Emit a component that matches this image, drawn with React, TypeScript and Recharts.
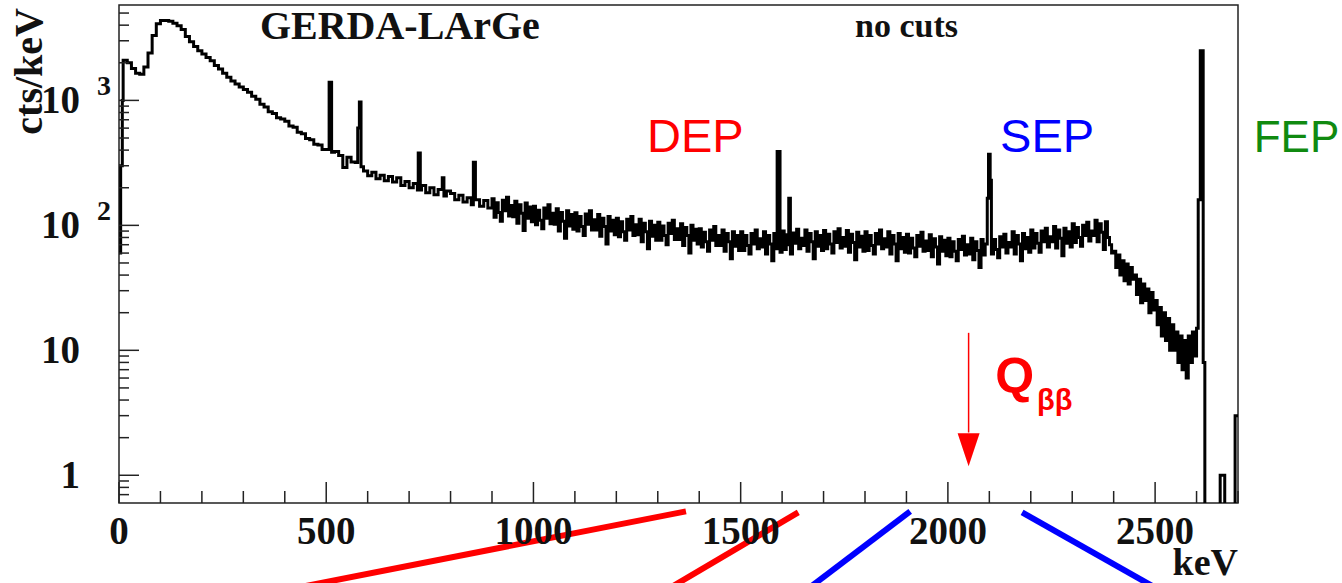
import React from 'react';
import { LineChart, Line, XAxis, YAxis, ReferenceLine, ReferenceDot, ReferenceArea } from 'recharts';

// counts/keV
// low part: 10 keV bins from 0 to 890 keV
const LOW_BIN = 10;
const continuumLow = [
  1000, 2100, 2000, 1800, 1650, 1620, 1850, 2400, 3300, 4100, // 0
  4350, 4350, 4300, 4150, 3950, 3700, 3250, 2950, 2700, 2500, // 100
  2350, 2200, 2080, 1900, 1780, 1650, 1530, 1430, 1350, 1280, // 200
  1220, 1160, 1080, 1020, 930, 885, 810, 785, 725, 710, // 300
  680, 625, 610, 555, 540, 495, 485, 445, 440, 405, // 400
  405, 385, 390, 362, 290, 350, 322, 318, 295, 272, // 500
  250, 266, 236, 252, 228, 246, 222, 240, 208, 224, // 600
  200, 216, 192, 208, 182, 200, 176, 194, 172, 188, // 700
  180, 160, 174, 154, 166, 146, 160, 142, 158, 138, // 800
];
// high part: 5 keV bins from 900 to 2695 keV
const HIGH_START = 900;
const HIGH_BIN = 5;
const continuumHigh = [
  163, 116, 152, 127, 108, 159, 131, 168, 119, 144, // 900
  117, 156, 104, 146, 125, 91, 151, 114, 140, 107, // 950
  142, 101, 132, 110, 94, 138, 114, 146, 103, 125, // 1000
  102, 136, 90, 127, 108, 79, 131, 99, 122, 93, // 1050
  126, 90, 118, 98, 83, 123, 102, 131, 92, 111, // 1100
  92, 122, 82, 114, 98, 71, 118, 90, 110, 84, // 1150
  114, 81, 107, 89, 76, 112, 92, 118, 83, 101, // 1200
  84, 112, 74, 104, 89, 65, 108, 82, 100, 76, // 1250
  106, 76, 99, 83, 70, 104, 86, 110, 77, 94, // 1300
  77, 103, 69, 96, 83, 60, 100, 76, 93, 71, // 1350
  94, 67, 88, 74, 62, 92, 76, 98, 69, 83, // 1400
  69, 92, 62, 86, 74, 54, 89, 68, 83, 63, // 1450
  89, 63, 83, 69, 59, 86, 71, 92, 65, 78, // 1500
  67, 89, 59, 83, 71, 52, 86, 65, 80, 61, // 1550
  90, 64, 84, 70, 59, 87, 72, 93, 65, 79, // 1600
  69, 92, 62, 86, 74, 54, 89, 68, 83, 63, // 1650
  91, 65, 85, 71, 60, 89, 73, 94, 66, 80, // 1700
  68, 91, 61, 85, 73, 53, 88, 67, 82, 62, // 1750
  89, 63, 83, 69, 59, 86, 71, 92, 65, 78, // 1800
  67, 89, 59, 83, 71, 52, 86, 65, 80, 61, // 1850
  85, 60, 79, 66, 56, 83, 68, 88, 62, 75, // 1900
  63, 84, 56, 78, 67, 49, 81, 62, 76, 57, // 1950
  79, 56, 74, 62, 52, 77, 64, 82, 58, 70, // 2000
  59, 79, 53, 74, 63, 46, 77, 58, 71, 54, // 2050
  83, 59, 77, 64, 55, 81, 67, 85, 60, 73, // 2100
  67, 89, 59, 83, 71, 52, 86, 65, 80, 61, // 2150
  92, 66, 86, 72, 61, 90, 74, 95, 67, 81, // 2200
  74, 98, 66, 92, 79, 57, 95, 72, 89, 67, // 2250
  103, 73, 96, 80, 68, 100, 83, 106, 75, 90, // 2300
  83, 110, 74, 103, 88, 64, 107, 80, 70, 60, // 2350
  62, 46, 58, 40, 52, 36, 49, 34, 46, 37, // 2400
  40, 28, 37, 24, 34, 25, 31, 20, 29, 21, // 2450
  25, 16, 22, 13, 20, 12, 18, 10, 16, 10, // 2500
  14, 8, 13, 7, 12, 6, 13, 8, 14, 9, // 2550
  15, 0.3, 0.3, 0.3, 0.3, 0.3, 0.3, 0.3, 0.3, 0.3, // 2600
  0.3, 0.3, 0.3, 0.3, 0.3, 0.3, 0.3, 0.3, 0.3, 0.3, // 2650
];

// narrow gamma lines and fine structure: from keV, to keV, counts/keV
const lines = [
  { from: 0, to: 4, h: 60 },
  { from: 4, to: 8, h: 300 },
  { from: 507, to: 513, h: 1400 },
  { from: 576, to: 580, h: 600 },
  { from: 580, to: 584, h: 970 },
  { from: 722, to: 727, h: 380 },
  { from: 780, to: 784, h: 240 },
  { from: 855, to: 860, h: 320 },
  { from: 1588, to: 1595, h: 390 },
  { from: 1616, to: 1620, h: 165 },
  { from: 2095, to: 2098, h: 165 },
  { from: 2098, to: 2102, h: 370 },
  { from: 2102, to: 2105, h: 230 },
  { from: 2604, to: 2609, h: 160 },
  { from: 2609, to: 2616, h: 2500 },
  { from: 2616, to: 2620, h: 8 },
  { from: 2657, to: 2668, h: 1 },
  { from: 2693, to: 2700, h: 3 },
];

const xTicks = [0, 100, 200, 300, 400, 500, 600, 700, 800, 900, 1000, 1100, 1200, 1300, 1400,
  1500, 1600, 1700, 1800, 1900, 2000, 2100, 2200, 2300, 2400, 2500, 2600, 2700];
const xLabels = [0, 500, 1000, 1500, 2000, 2500];

const yTicks = [0.7, 0.8, 0.9, 1, 2, 3, 4, 5, 6, 7, 8, 9, 10, 20, 30, 40, 50, 60, 70, 80, 90,
  100, 200, 300, 400, 500, 600, 700, 800, 900, 1000, 2000, 3000, 4000, 5000];
const yLabels = [
  { v: 1, base: '1', exp: '' },
  { v: 10, base: '10', exp: '' },
  { v: 100, base: '10', exp: '2' },
  { v: 1000, base: '10', exp: '3' },
];

// histogram bins -> step points, with the narrow lines cut in
const bins = [
  ...continuumLow.map((c, i) => ({ e: i * LOW_BIN, c })),
  ...continuumHigh.map((c, i) => ({ e: HIGH_START + i * HIGH_BIN, c })),
];
const binValue = (e: number, fallback: number) => {
  let v = fallback;
  bins.forEach(b => { if (b.e <= e) v = b.c; });
  return v;
};
const inLine = (e: number) => lines.some(l => e >= l.from && e < l.to);
const spectrum: { e: number; c: number }[] = bins.filter(b => !inLine(b.e));
lines.forEach(l => {
  spectrum.push({ e: l.from, c: l.h });
  if (!lines.some(o => o.from === l.to)) {
    spectrum.push({ e: l.to, c: l.to >= 2700 ? l.h : binValue(l.to, l.h) });
  }
});
spectrum.sort((a, b) => a.e - b.e);

const SERIF = '"Liberation Serif", "DejaVu Serif", serif';
const SANS = '"Liberation Sans", Arial, sans-serif';
const AX = '#222';

const XTick = (props: any) => {
  const { x, y, payload } = props;
  const major = xLabels.includes(payload.value);
  return (
    <g>
      <line x1={x} x2={x} y1={y} y2={y - (major ? 21 : 12)} stroke={AX} strokeWidth={1.5} />
      {major && (
        <text x={x} y={y + 41} textAnchor="middle" fontFamily={SERIF} fontWeight="bold" fontSize={39} fill="#111">
          {payload.value}
        </text>
      )}
    </g>
  );
};

const YTick = (props: any) => {
  const { x, y, payload } = props;
  const lab = yLabels.find(l => l.v === payload.value);
  return (
    <g>
      <line x1={x} x2={x + (lab ? 20 : 10)} y1={y} y2={y} stroke={AX} strokeWidth={1.5} />
      {lab && (
        <text x={x - 39} y={y + 13} textAnchor="end" fontFamily={SERIF} fontWeight="bold" fontSize={39} fill="#111">
          {lab.base}
        </text>
      )}
      {lab && lab.exp && (
        <text x={x - 22} y={y - 5} textAnchor="start" fontFamily={SERIF} fontWeight="bold" fontSize={28} fill="#111">
          {lab.exp}
        </text>
      )}
    </g>
  );
};

const yTitle = (props: any) => {
  const vb = props.viewBox || { x: 0, y: 5 };
  const tx = vb.x + 42;
  const ty = vb.y + 3;
  return (
    <text x={tx} y={ty} transform={`rotate(-90 ${tx} ${ty})`} textAnchor="end"
      fontFamily={SERIF} fontWeight="bold" fontSize={40} fill="#111">cts/keV</text>
  );
};

const xTitle = (props: any) => {
  const vb = props.viewBox || { x: 119, y: 503, width: 1119 };
  return (
    <text x={vb.x + vb.width} y={vb.y + 72} textAnchor="end"
      fontFamily={SERIF} fontWeight="bold" fontSize={38} fill="#111">keV</text>
  );
};

const textAt = (content: React.ReactNode, style: any) => (p: any) => (
  <text x={p.cx} y={p.cy} {...style}>{content}</text>
);

const arrowHead = (p: any) => (
  <polygon points={`${p.cx - 11},${p.cy - 33} ${p.cx + 11},${p.cy - 33} ${p.cx},${p.cy}`} fill="#ff0000" />
);

export default function App() {
  return (
    <div style={{ position: 'absolute', left: 0, top: 0 }}>
      <LineChart width={1342} height={583} data={spectrum} margin={{ top: 5, right: 104, bottom: 0, left: 0 }}>
        <XAxis dataKey="e" type="number" domain={[0, 2700]} allowDataOverflow ticks={xTicks} interval={0}
          tick={<XTick />} tickLine={false} axisLine={false} tickSize={0} tickMargin={0} height={80}
          label={xTitle} />
        <YAxis type="number" scale="log" domain={[0.6, 5800]} allowDataOverflow ticks={yTicks} interval={0}
          tick={<YTick />} tickLine={false} axisLine={false} tickSize={0} tickMargin={0} width={119}
          label={yTitle} />
        <Line type="stepAfter" dataKey="c" stroke="#000" strokeWidth={3} dot={false} isAnimationActive={false} />
        <ReferenceArea x1={0} x2={2700} y1={0.6} y2={5800} fill="none" fillOpacity={0} stroke={AX} strokeWidth={1.5} ifOverflow="visible" />

        <ReferenceDot x={340} y={3120} r={1} ifOverflow="visible"
          shape={textAt('GERDA-LArGe', { fontFamily: SERIF, fontWeight: 'bold', fontSize: 40, fill: '#111' })} />
        <ReferenceDot x={1776} y={3240} r={1} ifOverflow="visible"
          shape={textAt('no cuts', { fontFamily: SERIF, fontWeight: 'bold', fontSize: 34, fill: '#111' })} />
        <ReferenceDot x={1274} y={386} r={1} ifOverflow="visible"
          shape={textAt('DEP', { fontFamily: SANS, fontSize: 47, fill: '#ff0000' })} />
        <ReferenceDot x={2126} y={386} r={1} ifOverflow="visible"
          shape={textAt('SEP', { fontFamily: SANS, fontSize: 47, fill: '#0000ff' })} />
        <ReferenceDot x={2738} y={386} r={1} ifOverflow="visible"
          shape={textAt('FEP', { fontFamily: SANS, fontSize: 44, fill: '#108a10' })} />
        <ReferenceDot x={2114} y={4.56} r={1} ifOverflow="visible"
          shape={textAt(<>
            <tspan>Q</tspan>
            <tspan dx={3} dy={17} fontSize={29}>ββ</tspan>
          </>, { fontFamily: SANS, fontWeight: 'bold', fontSize: 50, fill: '#ff0000' })} />

        <ReferenceLine segment={[{ x: 2050, y: 13.8 }, { x: 2050, y: 2.2 }]} stroke="#ff0000" strokeWidth={1.5} ifOverflow="visible" />
        <ReferenceDot x={2050} y={1.18} r={1} ifOverflow="visible" shape={arrowHead} />

        <ReferenceLine segment={[{ x: 333, y: 0.109 }, { x: 1368, y: 0.514 }]} stroke="#ff0000" strokeWidth={6} ifOverflow="visible" />
        <ReferenceLine segment={[{ x: 1298, y: 0.109 }, { x: 1639, y: 0.505 }]} stroke="#ff0000" strokeWidth={6} ifOverflow="visible" />
        <ReferenceLine segment={[{ x: 1641, y: 0.109 }, { x: 1909, y: 0.514 }]} stroke="#0000ff" strokeWidth={6} ifOverflow="visible" />
        <ReferenceLine segment={[{ x: 2179, y: 0.505 }, { x: 2534, y: 0.109 }]} stroke="#0000ff" strokeWidth={6} ifOverflow="visible" />
      </LineChart>
    </div>
  );
}
